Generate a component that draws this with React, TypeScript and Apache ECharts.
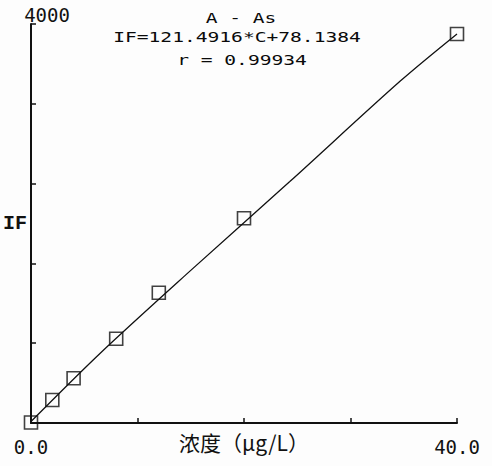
import React, { useEffect, useRef } from 'react';
import * as echarts from 'echarts';

// calibration points (concentration, intensity)
const standardConc = [0, 2, 4, 8, 12, 20, 40];
const standardIF = [5, 230, 448, 845, 1306, 2052, 3900];

// the drawn regression curve (slightly bowed in the original printout)
const fitConc = [0, 6.5, 15, 24.3, 34.7, 40];
const fitIF = [15, 700, 1530, 2420, 3430, 3900];

// only these tick values carry a label
const xLabelValues = [0, 40];
const yLabelValues = [4000];

const titleLines = ['A - As', 'IF=121.4916*C+78.1384', 'r = 0.99934'];

const MONO = '"DejaVu Sans Mono", monospace';

const App = () => {
  const chartRef = useRef<any>(null);

  useEffect(() => {
    const chart = echarts.init(chartRef.current, null, { renderer: 'svg' });

    const titleY = [18.5, 37, 60];
    const titleX = [241, 237, 242];

    const option: any = {
      animation: false,
      backgroundColor: '#fdfdfd',
      grid: { left: 31, right: 35, top: 24, bottom: 43, outerBoundsMode: 'none', containLabel: false },
      graphic: titleLines.map((t, i) => ({
        type: 'text',
        x: titleX[i],
        y: titleY[i],
        scaleX: 1.4,
        style: {
          text: t,
          fill: '#0a0a0a',
          font: `14px ${MONO}`,
          textAlign: 'center',
          textVerticalAlign: 'middle',
        },
      })),
      xAxis: {
        type: 'value',
        min: 0,
        max: 40,
        interval: 10,
        splitLine: { show: false },
        axisLine: { lineStyle: { color: '#111', width: 2 } },
        axisTick: { inside: true, length: 5, lineStyle: { color: '#111', width: 1.5 } },
        axisLabel: {
          color: '#111',
          fontFamily: MONO,
          fontSize: 19,
          margin: 14,
          formatter: (v: number) => (xLabelValues.includes(v) ? v.toFixed(1) : ''),
        },
        name: '浓度（μg/L）',
        nameLocation: 'middle',
        nameGap: 8,
        nameMoveOverlap: false,
        nameTextStyle: {
          color: '#111',
          fontFamily: '"Noto Sans CJK SC", sans-serif',
          fontSize: 21,
        },
      },
      yAxis: {
        type: 'value',
        min: 0,
        max: 4000,
        interval: 800,
        splitLine: { show: false },
        axisLine: { lineStyle: { color: '#111', width: 2 } },
        axisTick: { inside: true, length: 5, lineStyle: { color: '#111', width: 1.5 } },
        axisLabel: {
          color: '#111',
          fontFamily: MONO,
          fontSize: 19,
          align: 'center',
          verticalAlign: 'bottom',
          margin: -16,
          formatter: (v: number) => (yLabelValues.includes(v) ? String(v) : ''),
        },
        name: 'IF',
        nameLocation: 'middle',
        nameRotate: 0,
        nameGap: 4,
        nameMoveOverlap: false,
        nameTextStyle: {
          color: '#111',
          fontFamily: '"Liberation Mono", monospace',
          fontWeight: 'bold',
          fontSize: 20,
        },
      },
      series: [
        {
          type: 'line',
          data: fitConc.map((c, i) => [c, fitIF[i]]),
          showSymbol: false,
          symbol: 'none',
          smooth: 0.3,
          lineStyle: { color: '#111', width: 1.3 },
          z: 2,
        },
        {
          type: 'scatter',
          data: standardConc.map((c, i) => [c, standardIF[i]]),
          symbol: 'rect',
          symbolSize: 13,
          itemStyle: { color: 'rgba(255,255,255,0)', borderColor: '#111', borderWidth: 1.6 },
          z: 3,
        },
      ],
    };

    chart.setOption(option);

    return () => {
      chart.dispose();
    };
  }, []);

  return (
    <div
      ref={chartRef}
      style={{ position: 'fixed', left: 0, top: 0, width: '492px', height: '466px' }}
    />
  );
};

export default App;
